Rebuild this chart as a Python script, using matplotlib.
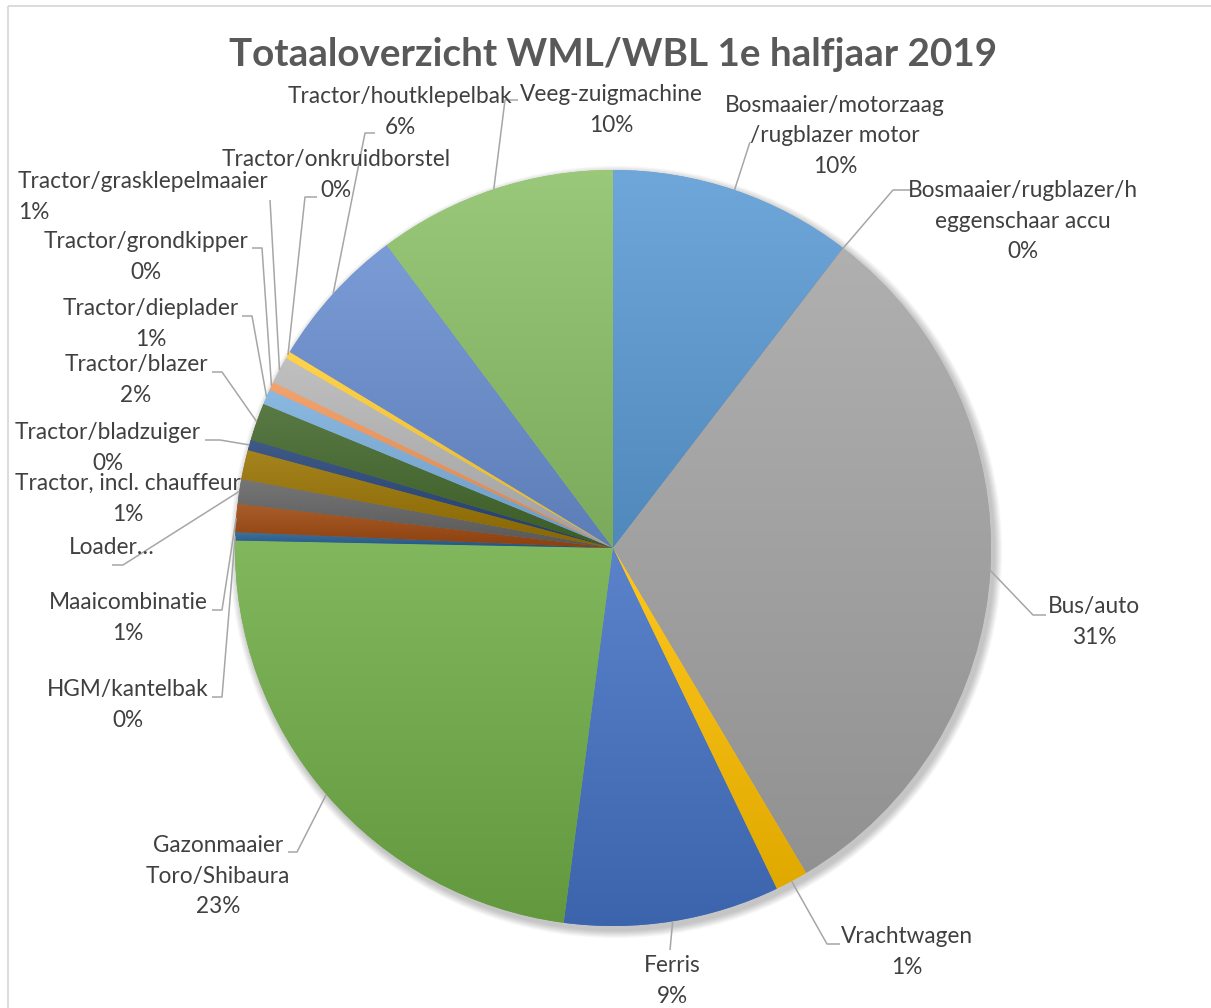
import numpy as np
import matplotlib.pyplot as plt
from matplotlib.colors import to_rgb, LinearSegmentedColormap
from matplotlib.patches import Circle, Rectangle

plt.rcParams['font.family'] = ['Lato', 'DejaVu Sans']

# --- data ---------------------------------------------------------------
TITLE = "Totaaloverzicht WML/WBL 1e halfjaar 2019"

CATEGORIES = [
    "Bosmaaier/motorzaag\n/rugblazer motor",
    "Bosmaaier/rugblazer/h\neggenschaar accu",
    "Bus/auto",
    "Vrachtwagen",
    "Ferris",
    "Gazonmaaier\nToro/Shibaura",
    "HGM/kantelbak",
    "Maaicombinatie",
    "Loader…",
    "Tractor, incl. chauffeur",
    "Tractor/bladzuiger",
    "Tractor/blazer",
    "Tractor/dieplader",
    "Tractor/grondkipper",
    "Tractor/grasklepelmaaier",
    "Tractor/onkruidborstel",
    "Tractor/houtklepelbak",
    "Veeg-zuigmachine",
]
SHARES = [10.4, 0.01, 31.0, 1.4, 9.2, 23.2, 0.35, 1.2, 1.05, 1.25,
          0.45, 1.6, 0.65, 0.35, 1.15, 0.3, 6.1, 10.2]
SHOW_PCT = [True] * 8 + [False] + [True] * 9

COLORS = ["#5B9BD5", "#ED7D31", "#A5A5A5", "#FFC000", "#4472C4", "#70AD47",
          "#255E91", "#9E480E", "#636363", "#997300", "#264478", "#43682B",
          "#7CAFDD", "#F1975A", "#B7B7B7", "#FFCD33", "#698ED0", "#8CC168"]

# --- layout (pixels, y down) ----------------------------------------------
W, H = 1211, 1008
CX, CY, R = 613, 548, 378

LABEL_POS = [(835, 136, 'center'), (1023, 221, 'center'), (1094, 622, 'center'),
             (907, 952, 'center'), (672, 981, 'center'), (218, 876, 'center'),
             (128, 705, 'center'), (128, 618, 'center'), (112, 547, 'center'),
             (128, 499, 'center'), (108, 448, 'center'), (136, 380, 'center'),
             (151, 324, 'center'), (146, 257, 'center'), (18, 197, 'left'),
             (336, 175, 'center'), (400, 112, 'center'), (611, 110, 'center')]

LEADERS = [[(750, 142)], [(912, 190), (893, 190)], [(1046, 615), (1033, 615)],
           [(840, 944), (827, 944)], [(670, 950)], [(288, 852), (297, 852)],
           [(212, 697), (222, 697)], [(212, 610), (222, 610)], [(112, 565), (123, 565)],
           None, [(205, 440), (220, 440)], [(212, 372), (222, 372)],
           [(242, 316), (252, 316)], [(252, 248), (262, 248)], [(270, 200)],
           [(317, 197), (305, 197)], [(375, 133), (365, 133)], [(518, 100), (505, 100)]]

fig = plt.figure(figsize=(W / 100, H / 100), dpi=100)
ax = fig.add_axes([0, 0, 1, 1])

# soft shadow under the pie
for i in range(10):
    ax.add_patch(Circle((CX + 3, CY + 4), R + 1 + i * 0.8, color='black',
                        alpha=0.022, lw=0, zorder=0.5))

wedges, _ = ax.pie(SHARES, colors=COLORS, startangle=-90, counterclock=True,
                   center=(CX, CY), radius=R, frame=True,
                   wedgeprops=dict(linewidth=0, zorder=1))

# vertical gradient inside every slice
grad = np.linspace(0, 1, 256).reshape(-1, 1)
for w, c in zip(wedges, COLORS):
    t = np.radians(np.linspace(w.theta1, w.theta2, 60))
    xs = np.r_[CX, CX + R * np.cos(t)]
    ys = np.r_[CY, CY + R * np.sin(t)]
    rgb = np.array(to_rgb(c))
    cmap = LinearSegmentedColormap.from_list('g', [rgb + (1 - rgb) * 0.12, rgb * 0.88])
    im = ax.imshow(grad, cmap=cmap, extent=(xs.min(), xs.max(), ys.max(), ys.min()),
                   origin='upper', aspect='auto', zorder=2, interpolation='bilinear')
    im.set_clip_path(w)

total = sum(SHARES)
for w, name, v, show, (lx, ly, ha), lead in zip(wedges, CATEGORIES, SHARES, SHOW_PCT,
                                               LABEL_POS, LEADERS):
    txt = name + (f"\n{round(100 * v / total)}%" if show else "")
    ax.text(lx, ly, txt, ha=ha, va='center', multialignment=ha, fontsize=16.3,
            color='#404040', linespacing=1.58, zorder=4)
    if lead is not None:
        mid = np.radians((w.theta1 + w.theta2) / 2)
        pts = lead + [(CX + R * np.cos(mid), CY + R * np.sin(mid))]
        ax.plot([p[0] for p in pts], [p[1] for p in pts], color='#A6A6A6',
                lw=1.1, zorder=3, solid_capstyle='butt')

ax.text(613, 55, TITLE, ha='center', va='center', fontsize=27.8,
        fontweight='bold', color='#595959')

ax.add_patch(Rectangle((8, 6), W, H, fill=False, edgecolor='#D9D9D9', lw=1.3, zorder=5))

ax.set_xlim(0, W)
ax.set_ylim(H, 0)
ax.axis('off')
fig.savefig('out.png', dpi=100, facecolor='white')
